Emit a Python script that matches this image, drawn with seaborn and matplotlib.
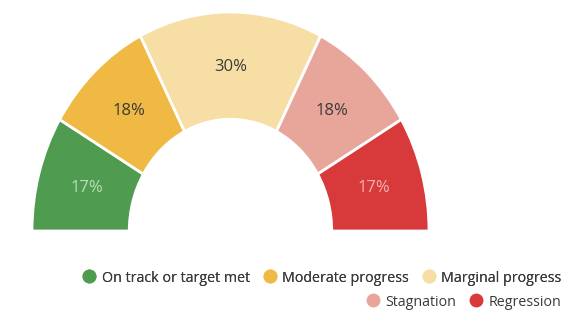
import matplotlib
matplotlib.use("Agg")
import matplotlib.pyplot as plt
from matplotlib.lines import Line2D
import seaborn as sns

# Share of targets by progress status
categories = ["On track or target met", "Moderate progress", "Marginal progress",
              "Stagnation", "Regression"]
shares = [17, 18, 30, 18, 17]
colors = ["#4f9c50", "#f0b943", "#f7dea5", "#e8a69b", "#d8393a"]
label_colors = ["#b9dfb4", "#3a3a3a", "#3a3a3a", "#3a3a3a", "#f3b4b1"]

sns.set_theme(style="white")
plt.rcParams["font.family"] = ["Open Sans", "DejaVu Sans"]

fig = plt.figure(figsize=(5.8, 3.22), dpi=100)
W, H = 580, 322
cx, cy, rx, ry = 230.5, 231, 198.5, 219
ax = fig.add_axes([(cx - rx) / W, (H - cy) / H, 2 * rx / W, ry / H])

# upper half holds the statuses, an invisible lower half completes the circle
values = shares + [sum(shares)]
wedge_colors = colors + ["none"]
wedges, _, autotexts = ax.pie(
    values, colors=wedge_colors, startangle=180, counterclock=False,
    radius=1.0, autopct=lambda p: "", pctdistance=0.75,
    wedgeprops=dict(width=0.49, edgecolor="white", linewidth=2.0),
)
wedges[-1].set_edgecolor("none")
for t, v, c in zip(autotexts, shares, label_colors):
    t.set_text(f"{v}%")
    t.set_color(c)
    t.set_fontsize(12)
autotexts[-1].set_text("")

ax.set_aspect("auto")
ax.set_xlim(-1, 1)
ax.set_ylim(0, 1)
ax.axis("off")

def handle(c):
    return Line2D([], [], marker="o", linestyle="none", markersize=10,
                  markerfacecolor=c, markeredgecolor="none")

legend_kw = dict(loc="center right", frameon=False, fontsize=10.3,
                 handletextpad=0.35, columnspacing=0.9, handlelength=1.0,
                 borderaxespad=0, borderpad=0, labelcolor="#3a3a3a")
leg1 = fig.legend([handle(c) for c in colors[:3]], categories[:3], ncol=3,
                  bbox_to_anchor=(561 / W, 1 - 278 / H), **legend_kw)
leg2 = fig.legend([handle(c) for c in colors[3:]], categories[3:], ncol=2,
                  bbox_to_anchor=(561 / W, 1 - 302 / H), **legend_kw)
fig.add_artist(leg1)

fig.savefig("out.png", dpi=100, facecolor="white")
